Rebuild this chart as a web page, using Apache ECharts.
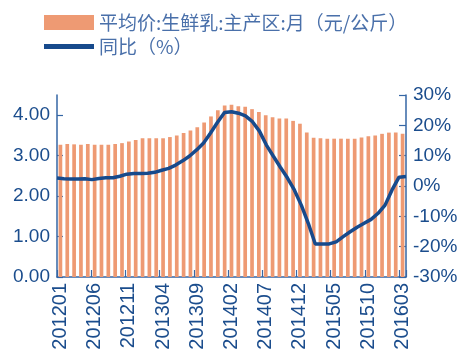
<!DOCTYPE html>
<html>
<head>
<meta charset="utf-8">
<script src="https://cdn.jsdelivr.net/npm/echarts@6/dist/echarts.min.js"></script>
<style>
html,body{margin:0;padding:0;background:#fff;}
#chart{width:465px;height:355px;}
</style>
</head>
<body>
<div id="chart"></div>
<script>
const categories = [
  '201201','201202','201203','201204','201205','201206','201207','201208','201209','201210','201211','201212',
  '201301','201302','201303','201304','201305','201306','201307','201308','201309','201310','201311','201312',
  '201401','201402','201403','201404','201405','201406','201407','201408','201409','201410','201411','201412',
  '201501','201502','201503','201504','201505','201506','201507','201508','201509','201510','201511','201512',
  '201601','201602','201603'
];
const priceValues = [
  3.27,3.29,3.28,3.27,3.29,3.27,3.27,3.27,3.29,3.31,3.35,3.39,
  3.43,3.43,3.43,3.43,3.46,3.50,3.56,3.62,3.70,3.82,3.97,4.12,
  4.24,4.26,4.22,4.21,4.15,4.08,4.00,3.95,3.92,3.92,3.86,3.79,
  3.57,3.44,3.43,3.42,3.42,3.42,3.42,3.42,3.45,3.48,3.50,3.54,
  3.57,3.57,3.54
];
const yoyValues = [
  2.6,2.4,2.3,2.3,2.4,2.1,2.5,2.7,2.7,3.2,3.9,4.1,
  4.1,4.2,4.5,5.2,5.8,6.9,8.3,9.9,11.9,14.2,17.5,21.0,
  24.2,24.5,24.0,23.1,21.2,18.1,13.5,9.8,6.2,2.7,-1.3,-6.3,
  -12.3,-19.1,-19.1,-19.1,-18.4,-16.7,-15.1,-13.6,-12.3,-11.0,-9.0,-6.3,
  -1.3,2.9,3.1
];
const leftTicks = [0, 1, 2, 3, 4];
const seriesNames = ['平均价:生鲜乳:主产区:月（元/公斤）', '同比（%）'];

const axisBlue = '#3566A5';
const labelBlue = '#1B4D8D';

const chart = echarts.init(document.getElementById('chart'), null, {renderer: 'canvas'});
chart.setOption({
  animation: false,
  backgroundColor: '#ffffff',
  legend: {
    orient: 'vertical',
    left: 39,
    top: 8,
    itemWidth: 50,
    itemHeight: 15,
    itemGap: 5,
    symbolKeepAspect: true,
    textStyle: {fontFamily: 'Noto Sans CJK SC', fontSize: 19, color: '#4A70AA'},
    data: [
      {name: seriesNames[0], icon: 'rect'},
      {name: seriesNames[1], icon: 'path://M0,0H50V5H0Z', itemStyle: {color: '#174A8C'}}
    ]
  },
  grid: {left: 57, right: 59, top: 95, bottom: 78, containLabel: false},
  xAxis: [
    {
      type: 'category',
      data: categories,
      boundaryGap: true,
      axisLine: {lineStyle: {color: axisBlue, width: 1.5}},
      axisTick: {show: true, inside: true, length: 7, interval: 4, lineStyle: {color: axisBlue, width: 1.2}},
      axisLabel: {
        interval: 4, rotate: 90, margin: 6,
        fontFamily: 'Liberation Sans', fontSize: 20, color: labelBlue,
        padding: [0, 0, 7, 0]
      },
      splitLine: {show: false}
    },
    {
      type: 'category',
      data: categories,
      boundaryGap: false,
      show: false,
      position: 'bottom'
    }
  ],
  yAxis: [
    {
      type: 'value',
      min: 0, max: 4.5, interval: 1,
      position: 'left',
      axisLine: {show: true, lineStyle: {color: axisBlue, width: 1.5}},
      axisTick: {show: true, inside: true, length: 6, customValues: leftTicks, lineStyle: {color: axisBlue, width: 1.2}},
      axisLabel: {
        customValues: leftTicks, margin: 7,
        fontFamily: 'Liberation Sans', fontSize: 19, color: labelBlue,
        formatter: v => v.toFixed(2)
      },
      splitLine: {show: false}
    },
    {
      type: 'value',
      min: -30, max: 30, interval: 10,
      position: 'right',
      axisLine: {show: true, lineStyle: {color: axisBlue, width: 1.5}},
      axisTick: {show: true, inside: true, length: 7, lineStyle: {color: axisBlue, width: 1.2}},
      axisLabel: {
        margin: 7,
        fontFamily: 'Liberation Sans', fontSize: 19, color: labelBlue,
        formatter: '{value}%'
      },
      splitLine: {show: false}
    }
  ],
  series: [
    {
      name: seriesNames[0],
      type: 'bar',
      xAxisIndex: 0,
      yAxisIndex: 0,
      data: priceValues,
      barWidth: '54%',
      itemStyle: {color: '#EE9A73'}
    },
    {
      name: seriesNames[1],
      type: 'line',
      xAxisIndex: 1,
      yAxisIndex: 1,
      data: yoyValues,
      symbol: 'none',
      showSymbol: false,
      smooth: false,
      lineStyle: {color: '#174A8C', width: 3.5},
      itemStyle: {color: '#174A8C'},
      z: 5
    }
  ]
});
</script>
</body>
</html>
